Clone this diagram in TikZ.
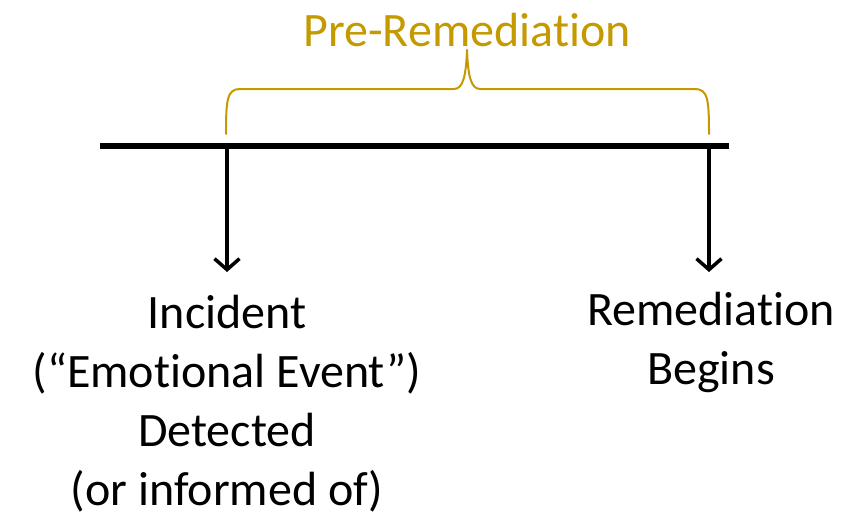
\documentclass[tikz,border=0pt]{standalone}
\usepackage{fontspec}
\setmainfont{Carlito}[RawFeature={-liga;-clig;-dlig;-calt}]
\usepackage{xcolor}
\usepackage{tikz}
\usetikzlibrary{arrows.meta, positioning}
\definecolor{bracegold}{RGB}{196, 154, 0}

\begin{document}
\begin{tikzpicture}[
    x=1pt, y=-1pt,
    font=\fontsize{48}{59}\selectfont,
    garis/.style={line width=5.5pt},
    panah/.style={line width=3.5pt, shorten >=23pt,
                  -{Straight Barb[length=11pt, width=25pt]}},
    kejadian/.style={anchor=north, align=center, inner sep=0pt},
    judul/.style={anchor=base, bracegold, inner sep=0pt},
    kurung/.style={bracegold, line width=2pt, line cap=round, line join=round}
  ]
    \useasboundingbox (0,0) rectangle (851,519);
    % Garis waktu: 100..729, panah di 227 dan 709.
    \coordinate (t0) at (100,146);
    \coordinate (t1) at (729,146);
    \coordinate (a1) at (227,146);
    \coordinate (a2) at (709,146);
    \draw[garis] (t0) -- (t1);
    \node[kejadian] (insiden) at (227,295)
      {Incident\\(“Emotional Event”)\\Detected\\(or informed of)};
    \node[kejadian] (remediasi) at (711,292) {Remediation\\Begins};
    \draw[panah] (a1) -- (insiden.north);
    \draw[panah] (a2) -- (a2 |- insiden.north);
    % Kurung kurawal di atas rentang
    \coordinate (kiri) at (226,134);
    \coordinate (kanan) at (709,134);
    \coordinate (puncak) at (467,50);
    \node[judul] (pre) at (467,47) {Pre-Remediation};
    \draw[kurung] (kiri) .. controls (226,100) and (227,89) .. (240,89)
      -- (454,89) .. controls (463,89) and (466,76) .. (puncak)
      .. controls (468,76) and (471,89) .. (480,89)
      -- (695,89) .. controls (708,89) and (709,100) .. (kanan);
  \end{tikzpicture}
\end{document}
